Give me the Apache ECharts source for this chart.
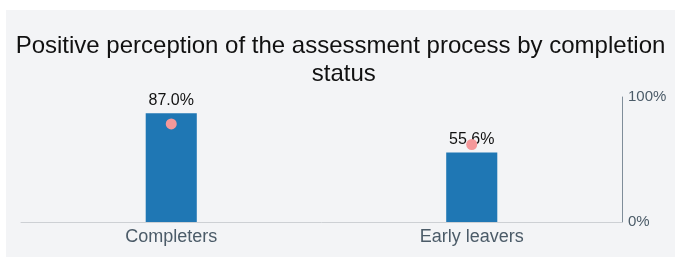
<!DOCTYPE html>
<html>
<head>
<meta charset="utf-8">
<script src="https://cdn.jsdelivr.net/npm/echarts@6/dist/echarts.min.js"></script>
<style>
  html, body { margin: 0; padding: 0; background: #ffffff; }
  #chart { position: absolute; left: 6px; top: 10px; width: 669px; height: 247px; background: #f3f4f6; }
</style>
</head>
<body>
<div id="chart"></div>
<script>
const categories = ["Completers", "Early leavers"];
const positiveShare = [87.0, 55.6];
const markerValues = [78.5, 62.0];
const yTicks = [0, 100];

const chart = echarts.init(document.getElementById("chart"));
chart.setOption({
  animation: false,
  backgroundColor: "#f3f4f6",
  textStyle: { fontFamily: "Liberation Sans, Arial, sans-serif" },
  title: {
    text: "Positive perception of the assessment process by completion status",
    left: "center",
    top: 17,
    textStyle: {
      fontSize: 24,
      fontWeight: "normal",
      color: "#111111",
      width: 655,
      overflow: "break",
      lineHeight: 28,
      align: "center"
    }
  },
  grid: { left: 15, right: 53, top: 87, bottom: 35 },
  xAxis: {
    type: "category",
    data: categories,
    axisLine: { lineStyle: { color: "#cdd0d4", width: 1 } },
    axisTick: { show: false },
    axisLabel: { color: "#4b5b68", fontSize: 18, margin: 6 }
  },
  yAxis: {
    type: "value",
    position: "right",
    min: yTicks[0],
    max: yTicks[1],
    interval: yTicks[1] - yTicks[0],
    splitLine: { show: false },
    axisLine: { show: true, lineStyle: { color: "#7f8d99", width: 1 } },
    axisTick: { show: false },
    axisLabel: { color: "#4b5b68", fontSize: 15, margin: 6, formatter: "{value}%" }
  },
  series: [
    {
      type: "bar",
      data: positiveShare,
      barWidth: "17%",
      itemStyle: { color: "#1f77b4" },
      label: {
        show: true,
        position: "top",
        color: "#111111",
        fontSize: 16,
        distance: 5,
        formatter: (p) => p.value.toFixed(1) + "%"
      }
    },
    {
      type: "scatter",
      data: markerValues,
      symbolSize: 11,
      itemStyle: { color: "#f4989a", opacity: 1 },
      z: 5
    }
  ]
});
</script>
</body>
</html>
